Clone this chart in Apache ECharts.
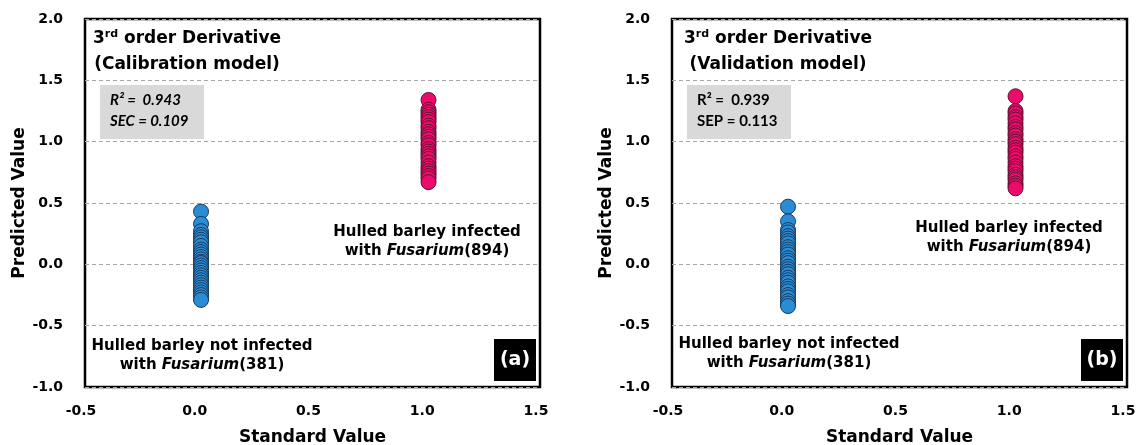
<!DOCTYPE html>
<html>
<head>
<meta charset="utf-8">
<style>
  html, body { margin: 0; padding: 0; background: #fff; }
  #chart { width: 1141px; height: 445px; }
</style>
<script src="https://cdn.jsdelivr.net/npm/echarts@6/dist/echarts.min.js"></script>
</head>
<body>
<div id="chart"></div>
<script>
// Axis ticks
const xTicks = [-0.5, 0.0, 0.5, 1.0, 1.5];
const yTicks = [-1.0, -0.5, 0.0, 0.5, 1.0, 1.5, 2.0];

// Standard (reference) values of the two classes
const stdNotInfected = 0.01;
const stdInfected = 1.01;

// Calibration model predictions (3rd order derivative)
const calNotInfected = [0.43, 0.33, 0.27, 0.24, 0.22, 0.20, 0.18, 0.15, 0.12, 0.10, 0.08, 0.06,
  0.04, 0.02, 0.01, -0.01, -0.03, -0.05, -0.07, -0.09, -0.11, -0.13, -0.15, -0.17, -0.19,
  -0.21, -0.23, -0.25, -0.27, -0.29];
const calInfected = [1.34, 1.26, 1.24, 1.22, 1.20, 1.18, 1.16, 1.13, 1.11, 1.08, 1.06, 1.04,
  1.02, 0.99, 0.97, 0.94, 0.92, 0.90, 0.88, 0.86, 0.83, 0.80, 0.78, 0.76, 0.74, 0.72,
  0.70, 0.67];

// Validation model predictions (3rd order derivative)
const valNotInfected = [0.47, 0.35, 0.28, 0.26, 0.23, 0.21, 0.19, 0.17, 0.14, 0.12, 0.10, 0.08,
  0.05, 0.03, 0.01, -0.02, -0.04, -0.06, -0.08, -0.11, -0.13, -0.15, -0.18, -0.20, -0.22,
  -0.25, -0.27, -0.30, -0.32, -0.34];
const valInfected = [1.37, 1.25, 1.23, 1.20, 1.18, 1.15, 1.12, 1.10, 1.07, 1.05, 1.02, 1.00,
  0.98, 0.95, 0.93, 0.91, 0.88, 0.86, 0.83, 0.80, 0.78, 0.76, 0.73, 0.71, 0.69, 0.66,
  0.64, 0.62];

// Panel texts
const panelTitles = ['(Calibration model)', '(Validation model)'];
const statLines = [['R\u00B2 =  0.943', 'SEC = 0.109'], ['R\u00B2 =  0.939', 'SEP = 0.113']];
const panelTags = ['(a)', '(b)'];
const notInfectedCount = 381;
const infectedCount = 894;

const FONT = '"DejaVu Sans", Verdana, sans-serif';
const BLUE = '#2B8CD6';
const BLUE_EDGE = '#1B3A5C';
const PINK = '#EC0A6A';
const PINK_EDGE = '#5E1230';

// Panel layout
const gridLefts = [85, 672];
const gridTop = 19;
const gridW = 455;
const gridH = 368;
const titleOffsets = [102, 106];
const notInfLabelPos = [[117, 356], [117, 354]];
const infLabelPos = [[342, 242], [337, 238]];

function pairs(x, ys) { return ys.map(v => [x, v]); }

const chart = echarts.init(document.getElementById('chart'), null, { renderer: 'canvas' });

const grids = gridLefts.map(l => ({
  left: l, top: gridTop, width: gridW, height: gridH,
  outerBoundsMode: 'none', containLabel: false,
  show: true, borderColor: '#000', borderWidth: 2.5, backgroundColor: 'transparent'
}));

const xAxes = gridLefts.map((l, i) => ({
  gridIndex: i, type: 'value',
  min: xTicks[0], max: xTicks[xTicks.length - 1], interval: 0.5,
  name: 'Standard Value', nameLocation: 'middle', nameGap: 42,
  nameTextStyle: { fontFamily: FONT, fontWeight: 'bold', fontSize: 17, color: '#000' },
  axisLine: { show: false }, axisTick: { show: false }, splitLine: { show: false },
  axisLabel: { fontFamily: FONT, fontWeight: 'bold', fontSize: 14, color: '#000', margin: 17,
    padding: [0, 8, 0, 0], formatter: v => v.toFixed(1) }
}));

const yAxes = gridLefts.map((l, i) => ({
  gridIndex: i, type: 'value',
  min: yTicks[0], max: yTicks[yTicks.length - 1], interval: 0.5,
  name: 'Predicted Value', nameLocation: 'middle', nameGap: 55,
  nameTextStyle: { fontFamily: FONT, fontWeight: 'bold', fontSize: 17, color: '#000' },
  axisLine: { show: false }, axisTick: { show: false },
  splitLine: { show: true, lineStyle: { color: '#A6A6A6', width: 1, type: [4, 3] } },
  axisLabel: { fontFamily: FONT, fontWeight: 'bold', fontSize: 14, color: '#000', margin: 22,
    formatter: v => v.toFixed(1) }
}));

function scatter(i, data, fill, edge) {
  return {
    type: 'scatter', xAxisIndex: i, yAxisIndex: i, data: data,
    symbol: 'circle', symbolSize: 15,
    itemStyle: { color: fill, borderColor: edge, borderWidth: 1, opacity: 1 },
    z: 3
  };
}

const series = [
  scatter(0, pairs(stdNotInfected, calNotInfected), BLUE, BLUE_EDGE),
  scatter(0, pairs(stdInfected, calInfected), PINK, PINK_EDGE),
  scatter(1, pairs(stdNotInfected, valNotInfected), BLUE, BLUE_EDGE),
  scatter(1, pairs(stdInfected, valInfected), PINK, PINK_EDGE)
];

const labelRich = {
  b: { fontFamily: FONT, fontWeight: 'bold', fontSize: 15, color: '#000', lineHeight: 19 },
  i: { fontFamily: FONT, fontWeight: 'bold', fontStyle: 'italic', fontSize: 15, color: '#000', lineHeight: 19 }
};

function annotation(x, y, line1, count) {
  return {
    type: 'text', x: x, y: y, z: 10,
    style: {
      text: '{b|' + line1 + '}\n{b|with }{i|Fusarium}{b|(' + count + ')}',
      rich: labelRich, align: 'center', verticalAlign: 'middle'
    }
  };
}

const graphics = [];
gridLefts.forEach((l, i) => {
  // Panel title
  graphics.push({
    type: 'text', x: l + titleOffsets[i], y: 52, z: 10,
    style: {
      text: '{t|3}{s|rd}{t| order Derivative}\n{t|' + panelTitles[i] + '}',
      align: 'center', verticalAlign: 'middle',
      rich: {
        t: { fontFamily: FONT, fontWeight: 'bold', fontSize: 17, color: '#000', lineHeight: 26 },
        s: { fontFamily: FONT, fontWeight: 'bold', fontSize: 11, color: '#000', lineHeight: 26, padding: [0, 0, 9, 0] }
      }
    }
  });
  // Fit statistics box
  const italic = i === 0;
  graphics.push({
    type: 'rect', z: 9,
    shape: { x: l + 15, y: 85, width: 104, height: 54 },
    style: { fill: '#D9D9D9' }
  });
  graphics.push({
    type: 'text', x: l + 25, y: 111, z: 10,
    style: {
      text: statLines[i].join('\n'),
      fontFamily: 'Lato, "Open Sans", sans-serif', fontWeight: 'bold',
      fontStyle: italic ? 'italic' : 'normal', fontSize: 15, lineHeight: 21,
      fill: '#000', align: 'left', verticalAlign: 'middle'
    }
  });
  // Panel tag
  graphics.push({
    type: 'rect', z: 9,
    shape: { x: l + 409, y: 339, width: 42, height: 42 },
    style: { fill: '#000' }
  });
  graphics.push({
    type: 'text', x: l + 430, y: 360, z: 10,
    style: {
      text: panelTags[i], fontFamily: FONT, fontWeight: 'bold', fontSize: 19,
      fill: '#fff', align: 'center', verticalAlign: 'middle'
    }
  });
  // Class annotations
  graphics.push(annotation(l + notInfLabelPos[i][0], notInfLabelPos[i][1],
    'Hulled barley not infected', notInfectedCount));
  graphics.push(annotation(l + infLabelPos[i][0], infLabelPos[i][1],
    'Hulled barley infected', infectedCount));
});

chart.setOption({
  backgroundColor: '#fff',
  animation: false,
  grid: grids,
  xAxis: xAxes,
  yAxis: yAxes,
  series: series,
  graphic: graphics
});
</script>
</body>
</html>
